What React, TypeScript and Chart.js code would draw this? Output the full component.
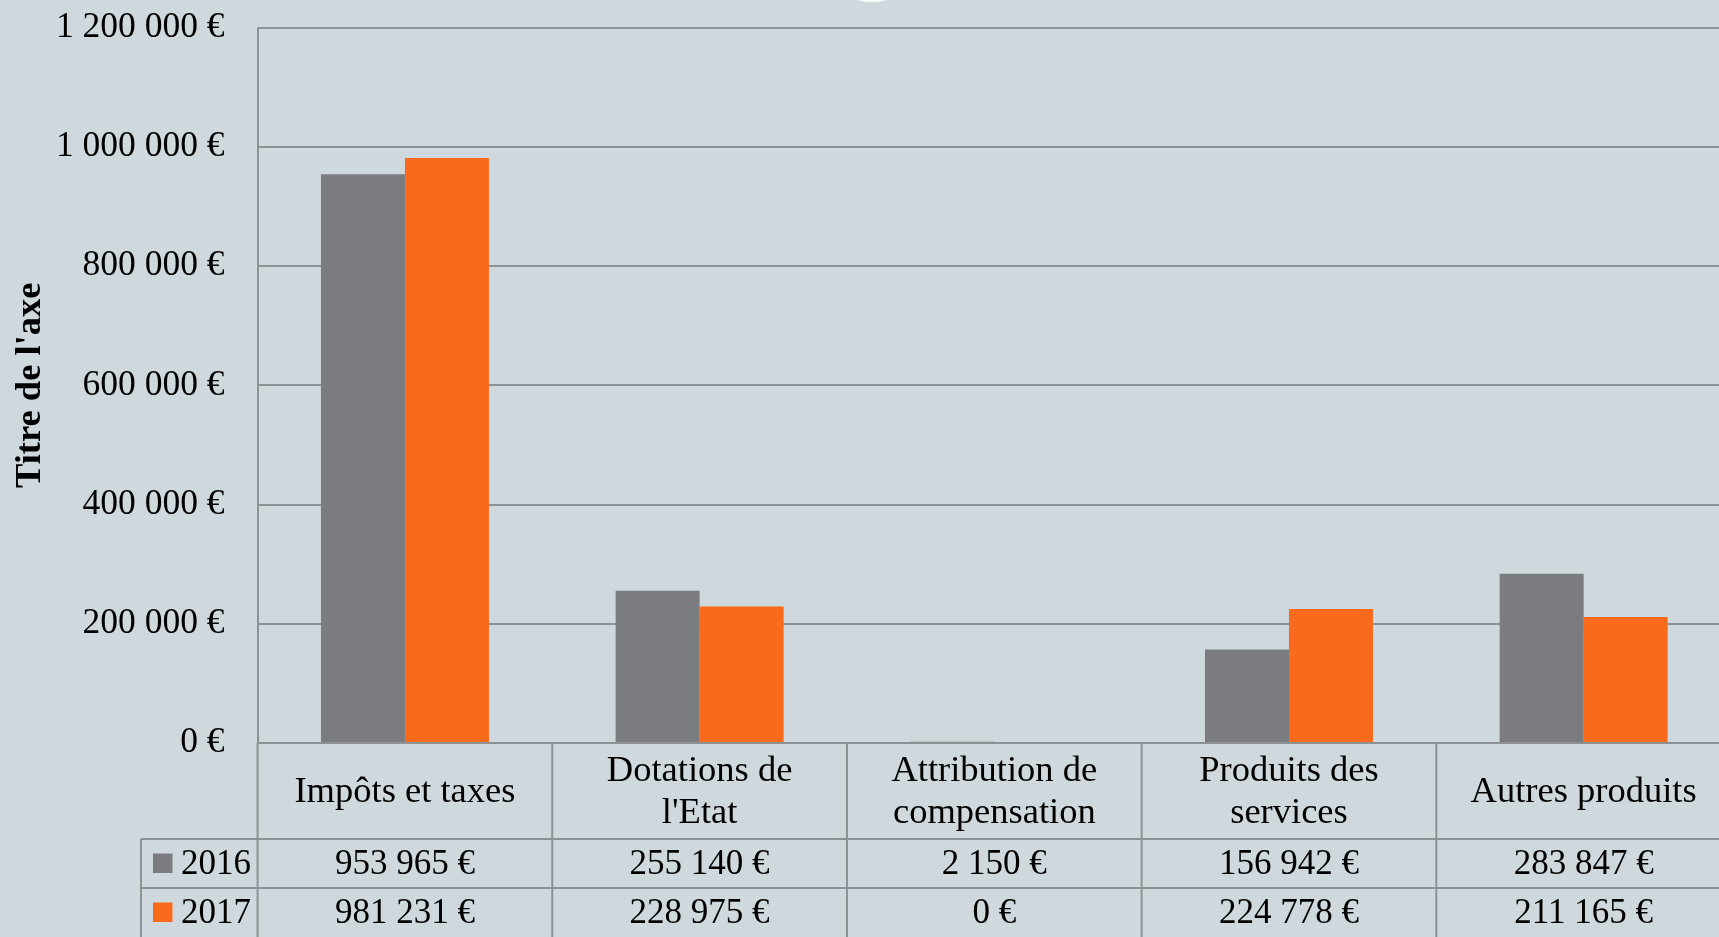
import React, { useEffect, useRef } from "react";
import { Chart, registerables } from "chart.js";

Chart.register(...registerables);

const categories: string[][] = [
  ["Impôts et taxes"],
  ["Dotations de", "l'Etat"],
  ["Attribution de", "compensation"],
  ["Produits des", "services"],
  ["Autres produits"],
];
const seriesNames = ["2016", "2017"];
const values2016 = [953965, 255140, 2150, 156942, 283847];
const values2017 = [981231, 228975, 0, 224778, 211165];
const yTickValues = [0, 200000, 400000, 600000, 800000, 1000000, 1200000];
const seriesColors = ["#7B7C80", "#FA6A1C"];
const axisTitle = "Titre de l'axe";

const FONT = "'Liberation Serif', 'Times New Roman', serif";
const LINE = "#8C9193";
const BG = "#CFD8DC";
const CANVAS_W = 1760;
const CANVAS_H = 937;

function fmt(v: number): string {
  return String(v).replace(/\B(?=(\d{3})+(?!\d))/g, " ") + " €";
}

const tablePlugin = {
  id: "dataTable",
  afterDraw(chart: any) {
    const ctx = chart.ctx as CanvasRenderingContext2D;
    const xs = chart.scales.x;
    const area = chart.chartArea;
    const n = categories.length;
    const colW = xs.width / n;
    const headerBottom = xs.bottom;
    const rowH = 49;
    const legendLeft = area.left - 116.6;
    const bottom = chart.height + 10;
    const series = [values2016, values2017];

    ctx.save();
    ctx.strokeStyle = LINE;
    ctx.lineWidth = 2;
    for (let i = 0; i <= n; i++) {
      const x = i < n ? xs.getPixelForValue(i) - colW / 2 : xs.getPixelForValue(n - 1) + colW / 2;
      ctx.beginPath();
      ctx.moveTo(x, area.bottom);
      ctx.lineTo(x, bottom);
      ctx.stroke();
    }
    ctx.beginPath();
    ctx.moveTo(legendLeft, headerBottom);
    ctx.lineTo(legendLeft, bottom);
    ctx.stroke();
    for (let r = 0; r < series.length; r++) {
      const y = headerBottom + r * rowH;
      ctx.beginPath();
      ctx.moveTo(legendLeft, y);
      ctx.lineTo(chart.width, y);
      ctx.stroke();
    }

    ctx.fillStyle = "#000";
    ctx.font = `35px ${FONT}`;
    ctx.textBaseline = "middle";
    for (let r = 0; r < series.length; r++) {
      const cy = headerBottom + r * rowH + rowH / 2;
      ctx.textAlign = "center";
      for (let i = 0; i < n; i++) {
        ctx.fillText(fmt(series[r][i]), xs.getPixelForValue(i), cy + 1);
      }
      ctx.fillStyle = seriesColors[r];
      ctx.fillRect(legendLeft + 12, cy - 10, 19.5, 19.5);
      ctx.fillStyle = "#000";
      ctx.textAlign = "left";
      ctx.fillText(seriesNames[r], legendLeft + 40, cy + 1);
    }

    // decorative white arc at top (part of an element above the chart)
    ctx.fillStyle = "#FFFFFF";
    ctx.beginPath();
    ctx.arc(872, -55, 57, 0, Math.PI * 2);
    ctx.fill();
    ctx.restore();
  },
};

export default function App() {
  const ref = useRef<HTMLCanvasElement | null>(null);

  useEffect(() => {
    if (!ref.current) return;
    const chart = new Chart(ref.current, {
      type: "bar",
      data: {
        labels: categories as any,
        datasets: [
          {
            label: seriesNames[0],
            data: values2016,
            backgroundColor: seriesColors[0],
            barPercentage: 1,
            categoryPercentage: 0.57,
          },
          {
            label: seriesNames[1],
            data: values2017,
            backgroundColor: seriesColors[1],
            barPercentage: 1,
            categoryPercentage: 0.57,
          },
        ],
      },
      options: {
        animation: false,
        responsive: false,
        devicePixelRatio: 1,
        layout: {
          padding: { left: 0, top: 27.5, right: CANVAS_W - 1731, bottom: CANVAS_H - 839 },
        },
        plugins: {
          legend: { display: false },
          tooltip: { enabled: false },
          title: { display: false },
        },
        scales: {
          x: {
            grid: { display: false },
            border: { display: true, color: LINE, width: 2 },
            ticks: {
              color: "#000",
              font: { family: FONT, size: 36.5, lineHeight: 1.17 },
              padding: 20,
              crossAlign: "center",
              maxRotation: 0,
              minRotation: 0,
              autoSkip: false,
            },
            afterFit(scale: any) {
              scale.height = 96;
              scale.paddingLeft = 0;
              scale.paddingRight = 0;
            },
          },
          y: {
            min: 0,
            max: 1200000,
            afterBuildTicks(scale: any) {
              scale.ticks = yTickValues.map((v) => ({ value: v }));
            },
            grid: { color: LINE, lineWidth: 2, drawTicks: false },
            border: { display: true, color: LINE, width: 2 },
            ticks: {
              color: "#000",
              font: { family: FONT, size: 35.5 },
              padding: 33,
              callback: (v: any) => fmt(Number(v)),
            },
            title: {
              display: true,
              text: axisTitle,
              color: "#000",
              font: { family: FONT, size: 36.5, weight: "bold" },
              padding: { top: 8.5, bottom: 0 },
            },
            afterFit(scale: any) {
              scale.width = 257.6;
              scale.paddingTop = 0;
              scale.paddingBottom = 0;
            },
          },
        },
      },
      plugins: [tablePlugin],
    } as any);
    return () => chart.destroy();
  }, []);

  return (
    <div
      style={{
        position: "fixed",
        left: 0,
        top: 0,
        width: "1719px",
        height: "937px",
        overflow: "hidden",
        background: BG,
      }}
    >
      <canvas ref={ref} width={CANVAS_W} height={CANVAS_H} style={{ display: "block" }} />
    </div>
  );
}
